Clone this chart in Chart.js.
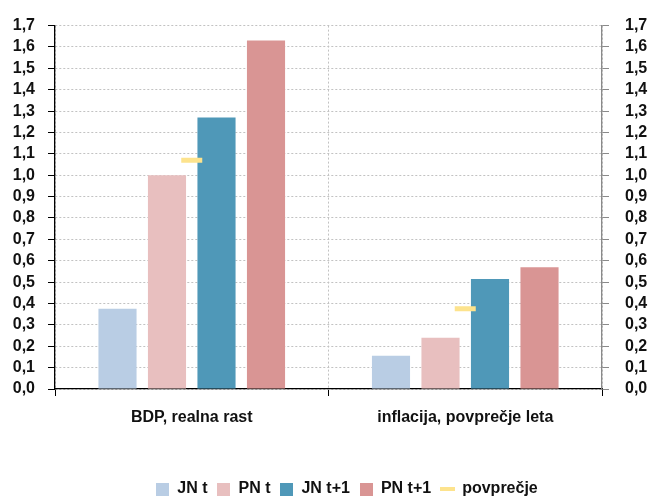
<!DOCTYPE html>
<html>
<head>
<meta charset="utf-8">
<script src="https://cdn.jsdelivr.net/npm/chart.js@4/dist/chart.umd.min.js"></script>
<style>
  html, body { margin: 0; padding: 0; background: #ffffff; }
  #wrap { width: 648px; height: 497px; }
</style>
</head>
<body>
<div id="wrap"><canvas id="c" width="648" height="497"></canvas></div>
<script>
// Categories and series (percentage points)
const categories = ['BDP, realna rast', 'inflacija, povprečje leta'];
const seriesNames = ['JN t', 'PN t', 'JN t+1', 'PN t+1'];
const jnT   = [0.375, 0.155];
const pnT   = [1.00, 0.24];
const jnT1  = [1.27, 0.515];
const pnT1  = [1.63, 0.57];
const average = [1.07, 0.375];
const averageName = 'povprečje';
const axisMin = 0;
const axisMax = 1.7;
const axisStep = 0.1;

const colors = ['#b9cde4', '#e8bfbf', '#4f98b8', '#d99594'];
const avgColor = '#fde38d';
const fontFamily = "'Liberation Sans', Arial, sans-serif";
const tickFont = { family: fontFamily, size: 16, weight: 'bold' };

const fmt = v => Number(v).toFixed(1).replace('.', ',');

// Small swatches used as legend symbols
function swatch(w, h, color) {
  const c = document.createElement('canvas');
  c.width = w; c.height = h;
  const g = c.getContext('2d');
  g.fillStyle = color;
  g.fillRect(0, 0, w, h);
  return c;
}

const barSeries = [jnT, pnT, jnT1, pnT1];
const datasets = barSeries.map((vals, i) => ({
  type: 'bar',
  label: seriesNames[i],
  data: vals,
  backgroundColor: colors[i],
  borderWidth: 0,
  barPercentage: 0.77,
  categoryPercentage: 0.724,
  order: 2
}));
datasets.push({
  type: 'line',
  label: averageName,
  data: average,
  showLine: false,
  pointStyle: 'line',
  pointRadius: 10.5,
  pointHoverRadius: 10.5,
  borderColor: avgColor,
  backgroundColor: avgColor,
  borderWidth: 5,
  order: 1
});

// Centre the legend row slightly right of the canvas middle
const legendShift = {
  id: 'legendShift',
  afterLayout(chart) {
    const l = chart.legend;
    if (l) { l.left += 23; l.right += 23; }
  }
};

new Chart(document.getElementById('c'), {
  type: 'bar',
  data: { labels: categories, datasets },
  plugins: [legendShift],
  options: {
    responsive: false,
    animation: false,
    events: [],
    layout: { padding: { left: 0, right: 0, top: 23, bottom: -10 } },
    plugins: {
      tooltip: { enabled: false },
      legend: {
        position: 'bottom',
        labels: {
          font: tickFont,
          color: '#111111',
          usePointStyle: true,
          boxWidth: 13,
          boxHeight: 13,
          padding: 10,
          generateLabels(chart) {
            return chart.data.datasets.map((ds, i) => {
              const isLine = ds.type === 'line';
              return {
                text: ds.label,
                fillStyle: isLine ? avgColor : ds.backgroundColor,
                strokeStyle: isLine ? avgColor : ds.backgroundColor,
                lineWidth: 0,
                pointStyle: isLine ? swatch(15, 4, avgColor) : swatch(13, 13, ds.backgroundColor),
                fontColor: '#111111',
                hidden: false,
                datasetIndex: i
              };
            });
          }
        }
      }
    },
    scales: {
      x: {
        offset: true,
        border: { display: true, color: '#000000', width: 1.3, dash: [2, 2] },
        grid: {
          offset: true,
          display: true,
          drawOnChartArea: true,
          color: '#c2c2c2',
          tickColor: '#000000',
          tickLength: 7,
          tickBorderDash: []
        },
        ticks: { font: tickFont, color: '#111111', padding: 12 },
        afterFit(axis) { axis.height = 82; }
      },
      y: {
        position: 'left',
        min: axisMin,
        max: axisMax,
        border: { display: true, color: '#000000', width: 1.3, dash: [2, 2] },
        grid: {
          color: '#c2c2c2',
          tickColor: '#000000',
          tickLength: 7,
          tickBorderDash: []
        },
        ticks: {
          stepSize: axisStep,
          autoSkip: false,
          font: tickFont,
          color: '#111111',
          padding: 13,
          callback: v => fmt(v)
        },
        afterFit(axis) { axis.width = 55; }
      },
      y2: {
        position: 'right',
        min: axisMin,
        max: axisMax,
        border: { display: true, color: '#8a8a8a', width: 1.3 },
        grid: {
          drawOnChartArea: false,
          tickColor: '#8a8a8a',
          tickLength: 7
        },
        ticks: {
          stepSize: axisStep,
          autoSkip: false,
          font: tickFont,
          color: '#111111',
          padding: 16,
          callback: v => fmt(v)
        },
        afterFit(axis) { axis.width = 46; }
      }
    }
  }
});
</script>
</body>
</html>
